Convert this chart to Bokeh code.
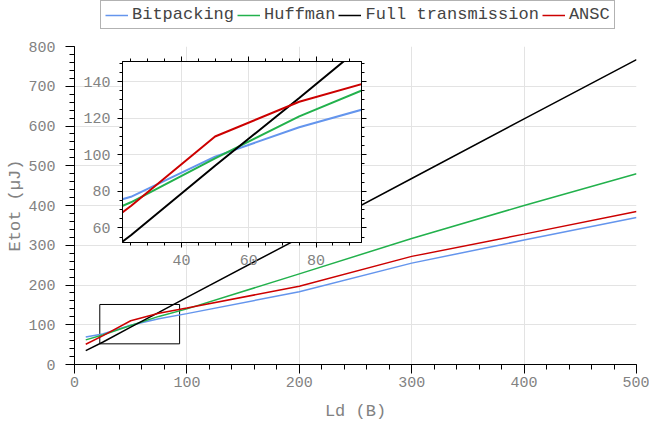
from bokeh.plotting import figure
from bokeh.models import (Range1d, SingleIntervalTicker, LinearAxis, Legend, LegendItem,
                          CustomJSTickFormatter)
from bokeh.layouts import column
from bokeh.embed import file_html
from bokeh.resources import INLINE

# ---- data ----
ld = [10, 25, 50, 75, 100, 200, 300, 400, 500]
bitpacking = [69, 77, 99, 115, 128, 183, 255, 313, 370]
huffman = [62, 74, 98, 121, 140, 228, 317, 400, 480]
full_transmission = [35, 56, 94, 131, 169, 318, 468, 618, 767]
ansc = [51, 72, 110, 129, 142, 197, 272, 328, 385]

series_names = ["Bitpacking", "Huffman", "Full transmission", "ANSC"]
series_values = [bitpacking, huffman, full_transmission, ansc]
colors = ["#6495ED", "#22B14C", "#000000", "#CC0000"]

main_x = (0, 500)
main_y = (0, 800)
inset_x = (22.5, 93.5)
inset_y = (52, 151)

FONT = "Liberation Mono"
TICK_COLOR = "#828282"
GRID = "#e3e3e3"

# ---- main figure ----
p = figure(width=649, height=423,
           x_range=Range1d(*main_x), y_range=Range1d(*main_y),
           output_backend="svg", toolbar_location=None, frame_align=False,
           min_border_left=74, min_border_right=13, min_border_top=46, min_border_bottom=57)
p.outline_line_color = None
p.background_fill_color = "white"
p.border_fill_color = "white"

p.xaxis.ticker = SingleIntervalTicker(interval=100, num_minor_ticks=5)
p.yaxis.ticker = SingleIntervalTicker(interval=100, num_minor_ticks=5)
for ax in (p.xaxis[0], p.yaxis[0]):
    ax.axis_line_color = "black"
    ax.major_tick_line_color = "black"
    ax.minor_tick_line_color = "black"
    ax.major_tick_out = 9
    ax.major_tick_in = 0
    ax.minor_tick_out = 5
    ax.minor_tick_in = 0
    ax.major_label_text_font = FONT
    ax.major_label_text_font_size = "15px"
    ax.major_label_text_color = TICK_COLOR
    ax.axis_label_text_font = FONT
    ax.axis_label_text_font_size = "17px"
    ax.axis_label_text_font_style = "normal"
    ax.axis_label_text_color = TICK_COLOR
p.xaxis.axis_label = "Ld (B)"
p.yaxis.axis_label = "Etot (µJ)"
p.xaxis.major_label_standoff = 3
p.xaxis.axis_label_standoff = 12
p.yaxis.major_label_standoff = 10
p.yaxis.axis_label_standoff = 0

p.xgrid.grid_line_color = GRID
p.ygrid.grid_line_color = GRID

# zoom rectangle
p.quad(left=inset_x[0], right=inset_x[1], bottom=inset_y[0], top=inset_y[1],
       fill_color=None, line_color="black", line_width=1)

for vals, col in zip(series_values, colors):
    p.line(ld, vals, line_color=col, line_width=1.5)

# ---- inset figure ----
q = figure(width=297, height=222,
           x_range=Range1d(*inset_x), y_range=Range1d(*inset_y),
           output_backend="svg", toolbar_location=None, frame_align=False,
           min_border_left=50, min_border_right=8, min_border_top=11, min_border_bottom=30,
           margin=(-373, 0, 0, 72))
q.border_fill_color = None
q.background_fill_color = "white"
q.outline_line_color = "black"

blank = CustomJSTickFormatter(code="return ''")
q.add_layout(LinearAxis(formatter=blank), "right")
q.add_layout(LinearAxis(formatter=blank), "above")
for ax in q.axis:
    ax.axis_line_color = "black"
    ax.major_tick_line_color = "black"
    ax.minor_tick_line_color = "black"
    ax.major_tick_out = 5
    ax.major_tick_in = 0
    ax.minor_tick_out = 3
    ax.minor_tick_in = 0
    ax.major_label_text_font = FONT
    ax.major_label_text_font_size = "15px"
    ax.major_label_text_color = TICK_COLOR
    ax.major_label_standoff = 7
for ax in q.xaxis:
    ax.ticker = SingleIntervalTicker(interval=20, num_minor_ticks=4)
for ax in q.yaxis:
    ax.ticker = SingleIntervalTicker(interval=20, num_minor_ticks=4)
for ax in q.right + q.above:
    ax.major_label_text_font_size = "1px"
    ax.major_label_standoff = 0
q.xgrid.grid_line_color = GRID
q.ygrid.grid_line_color = GRID

for vals, col in zip(series_values, colors):
    q.line(ld, vals, line_color=col, line_width=2)

# ---- legend strip (own small figure, drawn on top) ----
# its data ranges lie away from the series, so only the legend itself shows
lf = figure(width=520, height=30, x_axis_type=None, y_axis_type=None,
            x_range=Range1d(-2, -1), y_range=Range1d(-2, -1),
            output_backend="svg", toolbar_location=None, frame_align=False,
            min_border_left=0, min_border_right=0, min_border_top=0, min_border_bottom=0,
            margin=(-272, 0, 0, 100))
lf.outline_line_color = None
lf.background_fill_color = None
lf.border_fill_color = None
lf.grid.visible = False

items = []
for name, vals, col in zip(series_names, series_values, colors):
    r = lf.line(ld, vals, line_color=col, line_width=1.5)
    items.append(LegendItem(label=name, renderers=[r]))

legend = Legend(items=items, orientation="horizontal", location="top_left")
legend.label_text_font = FONT
legend.label_text_font_size = "17px"
legend.label_text_color = "#444444"
legend.glyph_width = 23
legend.glyph_height = 16
legend.label_height = 16
legend.label_standoff = 4
legend.spacing = 3
legend.padding = 4
legend.margin = 0
legend.border_line_color = "#666666"
legend.border_line_width = 1
legend.background_fill_color = "white"
legend.background_fill_alpha = 1
lf.add_layout(legend, "center")

layout = column(p, q, lf)
open("out.html", "w").write(file_html(layout, INLINE))
